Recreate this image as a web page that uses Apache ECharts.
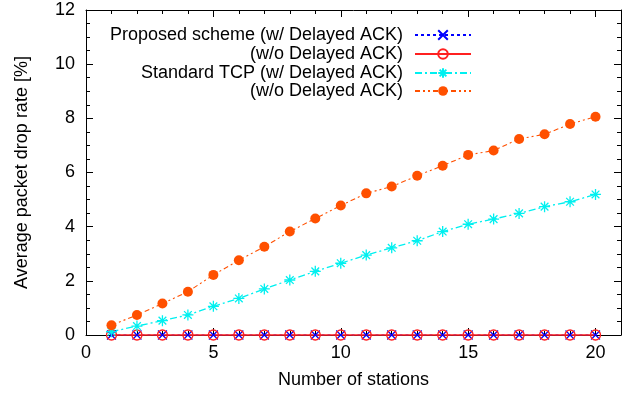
<!DOCTYPE html>
<html>
<head>
<meta charset="utf-8">
<script src="https://cdn.jsdelivr.net/npm/echarts@6/dist/echarts.min.js"></script>
<style>
  html, body { margin: 0; padding: 0; background: #fff; }
  #chart { width: 632px; height: 396px; }
</style>
</head>
<body>
<div id="chart"></div>
<script>
  // data
  const stations = [1, 2, 3, 4, 5, 6, 7, 8, 9, 10, 11, 12, 13, 14, 15, 16, 17, 18, 19, 20]
  const proposedWith = [0, 0, 0, 0, 0, 0, 0, 0, 0, 0, 0, 0, 0, 0, 0, 0, 0, 0, 0, 0]
  const proposedWithout = [0, 0, 0, 0, 0, 0, 0, 0, 0, 0, 0, 0, 0, 0, 0, 0, 0, 0, 0, 0]
  const standardWith = [0.12, 0.33, 0.53, 0.74, 1.06, 1.35, 1.70, 2.03, 2.35, 2.65, 2.95, 3.22, 3.48, 3.82, 4.09, 4.28, 4.49, 4.74, 4.92, 5.19]
  const standardWithout = [0.36, 0.74, 1.16, 1.60, 2.22, 2.76, 3.26, 3.82, 4.30, 4.78, 5.23, 5.48, 5.88, 6.25, 6.65, 6.81, 7.24, 7.41, 7.79, 8.06]
  const legendLabels = {
    pw: 'Proposed scheme (w/ Delayed ACK)',
    pwo: '(w/o Delayed ACK)',
    sw: 'Standard TCP (w/ Delayed ACK)',
    swo: '(w/o Delayed ACK)'
  }

  const FONT = 'Liberation Sans'
  const FS = 18
  const pairs = (ys) => stations.map((x, i) => [x, ys[i]])

  const crossPath = 'path://M0,0L10,10M10,0L0,10'
  const starPath = 'path://M5,0L5,10M0,5L10,5M1.5,1.5L8.5,8.5M8.5,1.5L1.5,8.5'
  const ringPath = 'path://M10,5A5,5,0,1,1,0,5A5,5,0,1,1,10,5Z'

  function xAx(pos, major) {
    return {
      type: 'value', min: 0, max: 21, position: pos, offset: 0,
      interval: major ? 5 : 1,
      axisLine: { show: major, onZero: false, lineStyle: { color: '#000', width: 1 } },
      axisTick: { show: true, inside: true, length: major ? 7 : 4, lineStyle: { color: '#000' } },
      axisLabel: {
        show: major && pos === 'bottom', showMaxLabel: false,
        color: '#000', fontSize: FS, fontFamily: FONT, margin: 9
      },
      splitLine: { show: false },
      name: major && pos === 'bottom' ? 'Number of stations' : '',
      nameLocation: 'middle', nameGap: 36,
      nameTextStyle: { color: '#000', fontSize: FS, fontFamily: FONT }
    }
  }
  function yAx(pos) {
    return {
      type: 'value', min: 0, max: 12, interval: 2, position: pos,
      axisLine: { show: true, onZero: false, lineStyle: { color: '#000', width: 1 } },
      axisTick: { show: true, inside: true, length: 7, lineStyle: { color: '#000' } },
      minorTick: { show: true, splitNumber: 4, length: 4, lineStyle: { color: '#000' } },
      axisLabel: { show: pos === 'left', color: '#000', fontSize: FS, fontFamily: FONT, margin: 11 },
      splitLine: { show: false },
      name: pos === 'left' ? 'Average packet drop rate [%]' : '',
      nameLocation: 'middle', nameGap: 55,
      nameTextStyle: { color: '#000', fontSize: FS, fontFamily: FONT }
    }
  }

  function leg(name, top) {
    return {
      data: [name], right: 160, top: top, orient: 'vertical', align: 'right',
      itemWidth: 56, itemHeight: 12, padding: 0,
      formatter: (n) => legendLabels[n],
      textStyle: { color: '#000', fontSize: FS, fontFamily: FONT, padding: [0, 7, 0, 0] }
    }
  }

  const chart = echarts.init(document.getElementById('chart'))
  chart.setOption({
    animation: false,
    grid: { left: 86, right: 11, top: 10, bottom: 61 },
    xAxis: [xAx('bottom', true), xAx('top', true), xAx('bottom', false), xAx('top', false)],
    yAxis: [yAx('left'), yAx('right')],
    legend: [leg('pw', 26), leg('pwo', 45), leg('sw', 64), leg('swo', 82)],
    series: [
      {
        name: 'pw', type: 'line', data: pairs(proposedWith), clip: false,
        symbol: crossPath, symbolSize: 9,
        lineStyle: { color: '#0000ff', width: 1, type: [3, 3] },
        itemStyle: { color: 'none', borderColor: '#0000ff', borderWidth: 1.2 }
      },
      {
        name: 'pwo', type: 'line', data: pairs(proposedWithout), clip: false,
        symbol: ringPath, symbolSize: 10,
        lineStyle: { color: '#ff2020', width: 1.3, type: 'solid' },
        itemStyle: { color: 'none', borderColor: '#ff2020', borderWidth: 1.3 }
      },
      {
        name: 'sw', type: 'line', data: pairs(standardWith), clip: false,
        symbol: starPath, symbolSize: 11,
        lineStyle: { color: '#00f0f0', width: 1.3, type: [7, 3, 2, 3] },
        itemStyle: { color: 'none', borderColor: '#00f0f0', borderWidth: 1.3 }
      },
      {
        name: 'swo', type: 'line', data: pairs(standardWithout), clip: false,
        symbol: 'circle', symbolSize: 10,
        lineStyle: { color: '#ff5000', width: 1.1, type: [5, 3, 2, 3, 2, 3] },
        itemStyle: { color: '#ff5000' }
      }
    ]
  })
</script>
</body>
</html>
